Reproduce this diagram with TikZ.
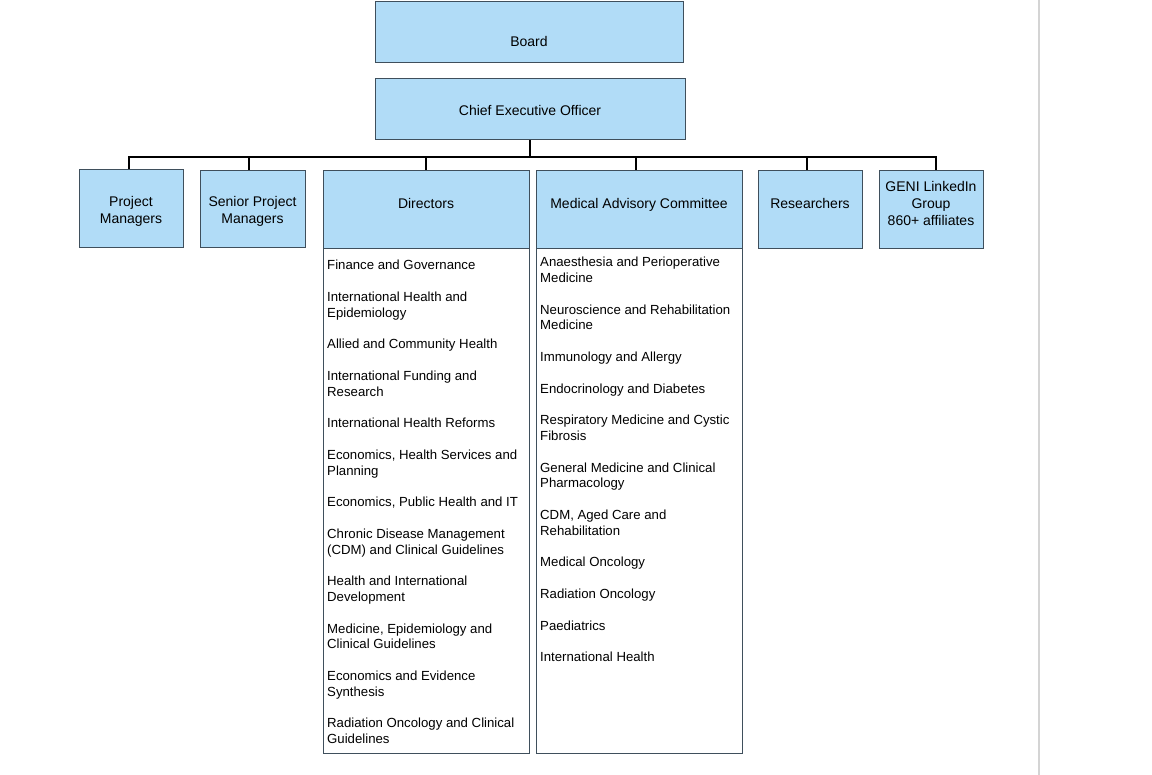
\documentclass[tikz,border=0pt]{standalone}
\usepackage{fontspec}
\setmainfont{Liberation Sans}
\usepackage{xcolor}
\definecolor{boxfill}{HTML}{B1DCF7}
\definecolor{boxline}{HTML}{3F4F5C}
\definecolor{sidegray}{HTML}{D4D4D4}

\begin{document}
\begin{tikzpicture}[x=1pt,y=-1pt,
  box/.style={draw=boxline, fill=boxfill, line width=1pt, inner sep=0pt},
  listbox/.style={draw=boxline, fill=white, line width=1pt, inner sep=0pt},
  head/.style={font=\fontsize{14}{17}\selectfont, align=center, inner sep=0pt},
  items/.style={font=\fontsize{13.2}{15.8}\selectfont, align=left, anchor=north west, inner sep=0pt},
  conn/.style={line width=2pt}]
\useasboundingbox (0,0) rectangle (1152,775);
\draw  [line width=2pt, sidegray] (1039,0) -- (1039,775);

\node [box, minimum width=308pt, minimum height=61pt] (board) at (529,32.5) {};
\node [head] (boardtxt) at (529,42) {Board};
\node [box, minimum width=310pt, minimum height=61pt] (ceo) at (530,109.5) {};
\node [head] (ceotxt) at (530,111) {Chief Executive Officer};

\node [box, minimum width=104pt, minimum height=78pt] (pm) at (131,209) {};
\node [head] (pmtxt) at (131,211) {Project\\Managers};
\node [box, minimum width=105pt, minimum height=77pt] (spm) at (252.5,209.5) {};
\node [head] (spmtxt) at (252.5,211) {Senior Project\\Managers};
\node [box, minimum width=206pt, minimum height=78pt] (dirhead) at (426,210) {};
\node [head] (dirtxt) at (426,203) {Directors};
\node [box, minimum width=206pt, minimum height=78pt] (machead) at (639,210) {};
\node [head] (mactxt) at (639,204.5) {Medical Advisory Committee};
\node [box, minimum width=104pt, minimum height=78pt] (res) at (810,210) {};
\node [head] (restxt) at (810,203) {Researchers};
\node [box, minimum width=104pt, minimum height=78pt] (geni) at (931,210) {};
\node [head] (genitxt) at (931,203) {GENI LinkedIn\\Group\\860+ affiliates};

\node [listbox, minimum width=206pt, minimum height=504pt] (dirlist) at (426,501) {};
\node [listbox, minimum width=206pt, minimum height=504pt] (maclist) at (639,501) {};

\node [items] (diritems) at (327,260) {Finance and Governance\\[15.8pt]
International Health and\\Epidemiology\\[15.8pt]
Allied and Community Health\\[15.8pt]
International Funding and\\Research\\[15.8pt]
International Health Reforms\\[15.8pt]
Economics, Health Services and\\Planning\\[15.8pt]
Economics, Public Health and IT\\[15.8pt]
Chronic Disease Management\\(CDM) and Clinical Guidelines\\[15.8pt]
Health and International\\Development\\[15.8pt]
Medicine, Epidemiology and\\Clinical Guidelines\\[15.8pt]
Economics and Evidence\\Synthesis\\[15.8pt]
Radiation Oncology and Clinical\\Guidelines};

\node [items] (macitems) at (540,257) {Anaesthesia and Perioperative\\Medicine\\[15.8pt]
Neuroscience and Rehabilitation\\Medicine\\[15.8pt]
Immunology and Allergy\\[15.8pt]
Endocrinology and Diabetes\\[15.8pt]
Respiratory Medicine and Cystic\\Fibrosis\\[15.8pt]
General Medicine and Clinical\\Pharmacology\\[15.8pt]
CDM, Aged Care and\\Rehabilitation\\[15.8pt]
Medical Oncology\\[15.8pt]
Radiation Oncology\\[15.8pt]
Paediatrics\\[15.8pt]
International Health};

\draw [conn] (ceo.south) -- ++(0,17) -| ([xshift=-2pt]pm.north);
\draw [conn] (ceo.south) -- ++(0,17) -| ([xshift=-3.5pt]spm.north);
\draw [conn] (ceo.south) -- ++(0,17) -| (dirhead.north);
\draw [conn] (ceo.south) -- ++(0,17) -| ([xshift=-3pt]machead.north);
\draw [conn] (ceo.south) -- ++(0,17) -| ([xshift=-3pt]res.north);
\draw [conn] (ceo.south) -- ++(0,17) -| ([xshift=5pt]geni.north);

\end{tikzpicture}
\end{document}
